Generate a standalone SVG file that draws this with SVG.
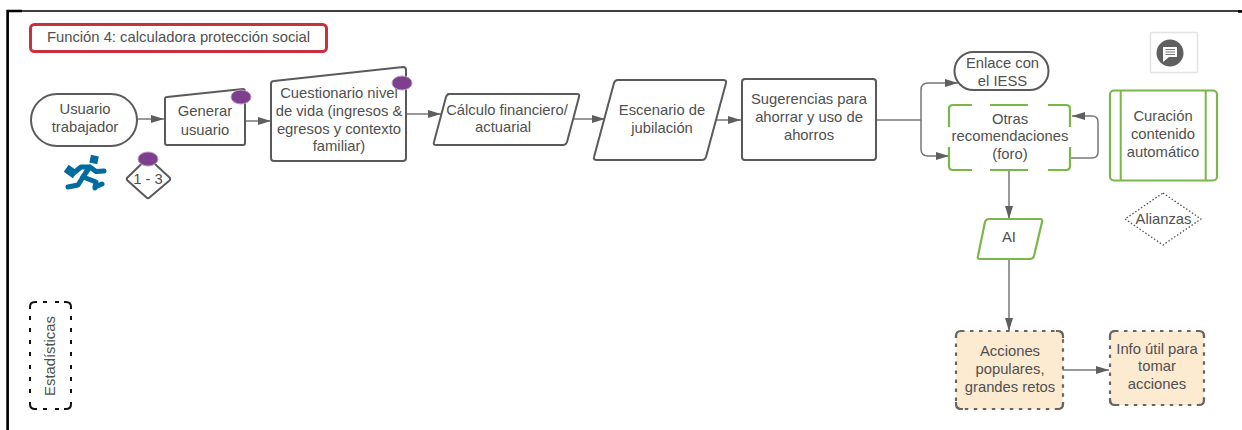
<svg xmlns="http://www.w3.org/2000/svg" width="1242" height="430" viewBox="0 0 1242 430">
<style>
text{font-family:"Liberation Sans",Arial,sans-serif;font-size:14.8px;fill:#505050;text-anchor:middle}
.n{fill:#fff;stroke:#5a5a5a;stroke-width:2;stroke-linejoin:round}
.g{fill:#fff;stroke:#7ab648;stroke-width:2.2;stroke-linejoin:round}
.of{fill:#fcebd0;stroke:none}
.od{fill:none;stroke:#666;stroke-width:2.200;stroke-dasharray:3.500 5.500}
.oc{fill:none;stroke:#666;stroke-width:2.200}
.c{fill:none;stroke:#777;stroke-width:1.500;stroke-linejoin:round}
.dot{fill:#7f3f8f;stroke:#b99ac4;stroke-width:1}
.run{fill:none;stroke:#006b9f;stroke-width:5;stroke-linejoin:round;stroke-linecap:round}
</style>
<defs><marker id="a" markerUnits="userSpaceOnUse" markerWidth="14" markerHeight="10" refX="13" refY="5" orient="auto"><path d="M0 1L13 5L0 9Z" fill="#5f5f5f"/></marker></defs>
<rect width="1242" height="430" fill="#fff"/>
<path d="M8 430V11H1242" fill="none" stroke="#000" stroke-width="1.600"/>
<path d="M7.500 430V11H22M1238 11.500H1242" fill="none" stroke="#000" stroke-width="2.400"/>
<g id="connectors">
<path class="c" d="M138 119H164" marker-end="url(#a)"/>
<path class="c" d="M246 121H271" marker-end="url(#a)"/>
<path class="c" d="M407 114H441" marker-end="url(#a)"/>
<path class="c" d="M573 119H605" marker-end="url(#a)"/>
<path class="c" d="M717 120H741" marker-end="url(#a)"/>
<path class="c" d="M876 120H921V90Q921 83 928 83H958" marker-end="url(#a)"/>
<path class="c" d="M921 120V149Q921 156 928 156H949" marker-end="url(#a)"/>
<path class="c" d="M1071 158H1092Q1098 158 1098 152V122Q1098 116 1092 116H1072" marker-end="url(#a)"/>
<path class="c" d="M1009 170V219" marker-end="url(#a)"/>
<path class="c" d="M1009 260V331" marker-end="url(#a)"/>
<path class="c" d="M1063 370H1109" marker-end="url(#a)"/>
</g>
<g id="titulo"><rect x="30.500" y="24.500" width="296" height="27" rx="4" fill="#fff" stroke="#c9303e" stroke-width="3"/><text x="178.500" y="41.500">Función 4: calculadora protección social</text></g>
<g id="usuario"><rect x="31" y="94" width="106" height="52" rx="26" class="n"/><text x="85" y="114">Usuario</text><text x="85" y="132">trabajador</text></g>
<g id="runner">
<rect x="90" y="155.500" width="8" height="8" fill="#006b9f" transform="rotate(12 94 160)"/>
<rect x="65" y="167.500" width="11" height="8.500" fill="#006b9f" transform="rotate(35 71 172)"/>
<path class="run" stroke-width="6.500" d="M89 168L83 177"/>
<path class="run" stroke-width="4" d="M90 167H81L75 172M90 167L96 171.500L104 171"/>
<path class="run" stroke-width="4.600" d="M83 177L78 185L68 187M83 177L96 182L95 188M95 187L102 184"/>
</g>
<g id="rombo"><path class="n" stroke-width="1.700" d="M146.500 159Q148 157.500 149.500 159L169.500 177.500Q171 179 169.500 180.500L149.500 197.500Q148 199 146.500 197.500L127.500 180.500Q126 179 127.500 177.500Z"/><text x="148" y="184">1 - 3</text><ellipse class="dot" cx="148" cy="159" rx="10" ry="7"/></g>
<g id="generar"><path class="n" d="M167 97L243 89Q245 89 245 92V143Q245 145 243 145H167Q165 145 165 143V99Q165 97 167 97Z"/><text x="205" y="116">Generar</text><text x="205" y="135">usuario</text><ellipse class="dot" cx="241" cy="97" rx="10" ry="7"/></g>
<g id="cuestionario"><path class="n" d="M274 81L403 67Q406 67 406 70V158Q406 161 403 161H274Q271 161 271 158V84Q271 81 274 81Z"/><text x="339" y="98">Cuestionario nivel</text><text x="339" y="116">de vida (ingresos &amp;</text><text x="339" y="134">egresos y contexto</text><text x="339" y="151">familiar)</text><ellipse class="dot" cx="402" cy="83" rx="10" ry="7"/></g>
<g id="calculo"><path class="n" d="M448 94H577Q580 94 579 97L567 142Q566 145 563 145H436Q433 145 434 142L446 97Q447 94 450 94Z"/><text x="507" y="115">Cálculo financiero/</text><text x="503" y="132">actuarial</text></g>
<g id="escenario"><path class="n" d="M617 80H723Q727 80 726 83L706 157Q705 160 702 160H597Q593 160 594 157L614 83Q615 80 618 80Z"/><text x="662" y="115">Escenario de</text><text x="662" y="133">jubilación</text></g>
<g id="sugerencias"><rect x="742" y="79" width="134" height="81" rx="3" class="n"/><text x="809" y="104">Sugerencias para</text><text x="809" y="122">ahorrar y uso de</text><text x="809" y="140">ahorros</text></g>
<g id="enlace"><rect x="954.500" y="52" width="94" height="38" rx="19" class="n"/><text x="1002.500" y="68">Enlace con</text><text x="1002.500" y="86">el IESS</text></g>
<g id="otras"><rect x="949" y="105" width="121" height="65" fill="#fff"/><path d="M949 127V109Q949 105 953 105H972M990 105H1028M1048 105H1066Q1070 105 1070 109V127M1070 147V166Q1070 170 1066 170H1048M1028 170H990M972 170H953Q949 170 949 166V147" fill="none" stroke="#7ab648" stroke-width="2.200"/><text x="1010" y="124">Otras</text><text x="1010" y="141">recomendaciones</text><text x="1010" y="159">(foro)</text></g>
<g id="comentario"><rect x="1150.500" y="32.500" width="47" height="40" rx="1" fill="#fff" stroke="#e3e3e3" stroke-width="1.500"/><circle cx="1170" cy="53" r="13.500" fill="#5f5f5f"/><path d="M1163 47H1177V57H1163Z" fill="#fff"/><path d="M1163 55L1163 62 1169 57Z" fill="#fff"/><path d="M1165.500 49.500H1175M1165.500 52H1175M1165.500 54.500H1175" stroke="#777" stroke-width="1"/></g>
<g id="curacion"><rect x="1110" y="90.500" width="107" height="90" rx="4" class="g"/><path d="M1120.700 91V180M1205.700 91V180" stroke="#7ab648" stroke-width="2" fill="none"/><text x="1163" y="121">Curación</text><text x="1163" y="139">contenido</text><text x="1163" y="157">automático</text></g>
<g id="alianzas"><path d="M1163 193L1201 219 1163 245 1125 219Z" fill="#fff" stroke="#555" stroke-width="1.300" stroke-dasharray="1.500 2"/><text x="1163.500" y="224">Alianzas</text></g>
<g id="ai"><path class="g" d="M989 219H1040Q1043 219 1042 222L1034 256Q1033 259 1030 259H980Q977 259 978 256L985 222Q986 219 989 219Z"/><text x="1009" y="242">AI</text></g>
<g id="acciones"><rect x="956" y="331" width="107" height="78" rx="5" class="of"/><rect x="956" y="331" width="107" height="78" rx="5" class="od"/><path class="oc" d="M956 338V336Q956 331 961 331H963M1056 331H1058Q1063 331 1063 336V338M1063 402V404Q1063 409 1058 409H1056M963 409H961Q956 409 956 404V402"/><text x="1010" y="356">Acciones</text><text x="1010" y="374">populares,</text><text x="1010" y="392">grandes retos</text></g>
<g id="info"><rect x="1110" y="331" width="94" height="74" rx="5" class="of"/><rect x="1110" y="331" width="94" height="74" rx="5" class="od"/><path class="oc" d="M1110 338V336Q1110 331 1115 331H1117M1197 331H1199Q1204 331 1204 336V338M1204 398V400Q1204 405 1199 405H1197M1117 405H1115Q1110 405 1110 400V398"/><text x="1157" y="354">Info útil para</text><text x="1157" y="371">tomar</text><text x="1157" y="389">acciones</text></g>
<g id="estadisticas"><path d="M30 309V307Q30 302 35 302H37M64 302H66Q71 302 71 307V309M71 402V404Q71 409 66 409H64M37 409H35Q30 409 30 404V402" fill="none" stroke="#111" stroke-width="2"/><path d="M43 302H47M55 302H59M43 409H47M55 409H59M30 316V320M30 328V332M30 340V344M30 352V356M30 365V369M30 377V381M30 389V393M71 316V320M71 328V332M71 340V344M71 352V356M71 365V369M71 377V381M71 389V393" fill="none" stroke="#111" stroke-width="2"/><text transform="translate(55 356) rotate(-90)">Estadísticas</text></g>
</svg>
